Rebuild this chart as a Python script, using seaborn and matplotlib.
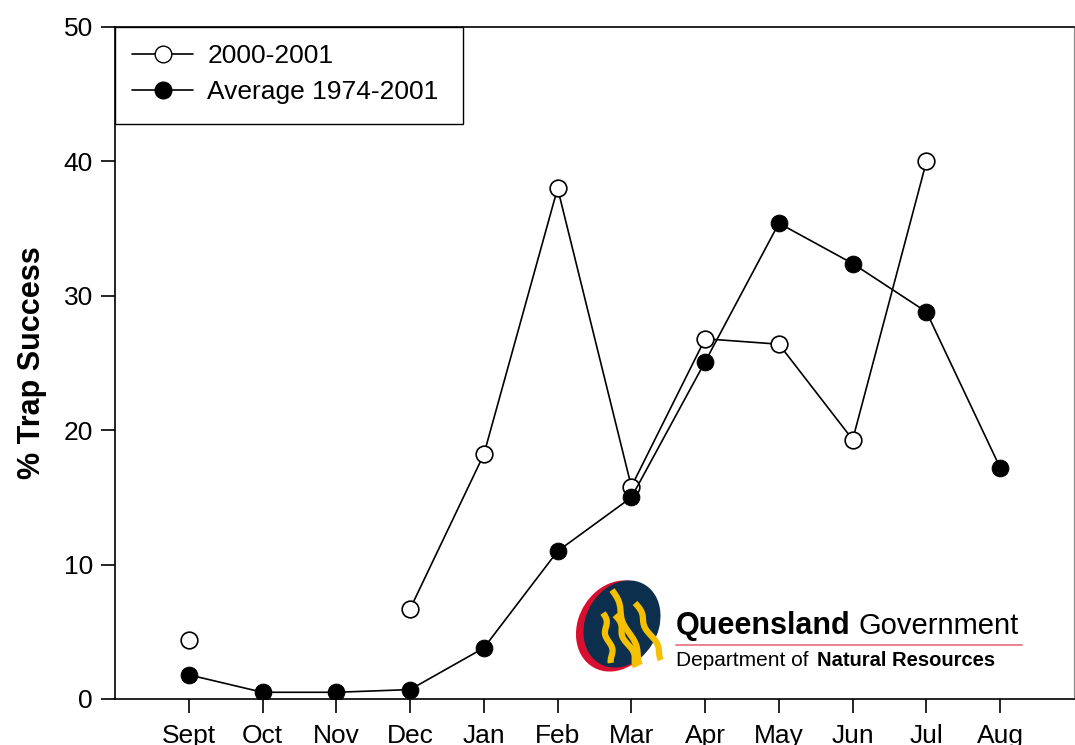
import numpy as np
import pandas as pd
import matplotlib
matplotlib.use("Agg")
import matplotlib.pyplot as plt
from matplotlib.patches import Ellipse, Rectangle
from matplotlib.lines import Line2D
import seaborn as sns

months = ["Sept", "Oct", "Nov", "Dec", "Jan", "Feb", "Mar", "Apr", "May", "Jun", "Jul", "Aug"]
season_2000_2001 = [4.4, np.nan, np.nan, 6.7, 18.2, 38.0, 15.8, 26.8, 26.4, 19.3, 40.0, np.nan]
average_1974_2001 = [1.8, 0.5, 0.5, 0.7, 3.8, 11.0, 15.0, 25.1, 35.4, 32.4, 28.8, 17.2]
y_ticks = [0, 10, 20, 30, 40, 50]

sns.set_theme(style="ticks")
plt.rcParams['font.family'] = ['Liberation Sans', 'DejaVu Sans']
plt.rcParams['text.color'] = 'black'
plt.rcParams['axes.labelcolor'] = 'black'
plt.rcParams['xtick.color'] = 'black'
plt.rcParams['ytick.color'] = 'black'

W, H = 1075, 745
fig = plt.figure(figsize=(W / 100, H / 100), dpi=100)
L, R, T, B = 115, 1074, 27, 699
ax = fig.add_axes([L / W, 1 - B / H, (R - L) / W, (B - T) / H])

pos = np.arange(len(months))
s = pd.Series(season_2000_2001)
seg = s.isna().cumsum()
df_open = pd.DataFrame({"pos": pos, "val": season_2000_2001, "seg": seg}).dropna()
df_avg = pd.DataFrame({"pos": pos, "val": average_1974_2001})

sns.lineplot(data=df_open, x="pos", y="val", units="seg", estimator=None, ax=ax,
             color="black", linewidth=1.2, marker="o", markersize=12,
             markerfacecolor="white", markeredgecolor="black", markeredgewidth=1.2, zorder=3)
sns.lineplot(data=df_avg, x="pos", y="val", ax=ax,
             color="black", linewidth=1.2, marker="o", markersize=12,
             markerfacecolor="black", markeredgecolor="black", zorder=4)

ax.set_xlim(-1, 12)
ax.set_ylim(0, 50)
ax.set_xticks(pos)
ax.set_xticklabels(months)
ax.set_yticks(y_ticks)
ax.set_xlabel("")
ax.set_ylabel("% Trap Success", fontsize=22, fontweight="bold", labelpad=12, color="black")
ax.tick_params(axis="both", labelsize=19, length=10, width=1.2, color="black",
               labelcolor="black", direction="out")
ax.tick_params(axis="x", pad=8)
ax.tick_params(axis="y", pad=6)
for side in ["left", "bottom", "top"]:
    ax.spines[side].set_visible(True)
    ax.spines[side].set_color("black")
    ax.spines[side].set_linewidth(1.2)
ax.spines["right"].set_visible(True)
ax.spines["right"].set_color("#888888")
ax.spines["right"].set_linewidth(0.8)

# legend
h1 = Line2D([], [], color="black", lw=1.2, marker="o", markersize=12,
            markerfacecolor="white", markeredgecolor="black")
h2 = Line2D([], [], color="black", lw=1.2, marker="o", markersize=12,
            markerfacecolor="black", markeredgecolor="black")
leg = ax.legend([h1, h2], ["2000-2001", "Average 1974-2001"], loc="upper left",
                bbox_to_anchor=(0.0, 1.0), frameon=False, fontsize=19,
                handlelength=2.3, handletextpad=0.55, labelspacing=0.45,
                borderaxespad=0.25, borderpad=0.4)
for t in leg.get_texts():
    t.set_color("black")
fig.add_artist(Rectangle((L / W, 1 - 124 / H), (463 - L) / W, (124 - T) / H,
                         transform=fig.transFigure, fill=False, edgecolor="black", lw=1.0))

# Queensland Government logo
def fx(px):
    return np.asarray(px) / W
def fy(py):
    return 1 - np.asarray(py) / H
fig.add_artist(Ellipse((fx(617), fy(626)), 80 / W, 92 / H, angle=-10, transform=fig.transFigure,
                       facecolor="#d8102f", edgecolor="none", zorder=5))
fig.add_artist(Ellipse((fx(622), fy(624)), 75 / W, 88 / H, angle=-10, transform=fig.transFigure,
                       facecolor="#0b2f4c", edgecolor="none", zorder=6))
for (x0, y0), (x1, y1) in [((612, 590), (642, 665)), ((603, 613), (613, 663)),
                           ((615, 615), (638, 667)), ((635, 603), (663, 660))]:
    t = np.linspace(0, 1, 60)
    yy = y0 + (y1 - y0) * t
    xx = x0 + (x1 - x0) * t + 2.2 * np.sin(t * 3.5 * np.pi)
    fig.add_artist(Line2D(fx(xx), fy(yy), transform=fig.transFigure, color="#f5c000",
                          lw=4.5, zorder=7, solid_capstyle="butt"))
fig.text(fx(676), fy(626), "Queensland", fontsize=22, fontweight="bold",
         va="center", ha="left", zorder=8)
fig.text(fx(858), fy(626), "Government", fontsize=21,
         va="center", ha="left", zorder=8)
fig.add_artist(Line2D([fx(676), fx(1022)], [fy(645), fy(645)], transform=fig.transFigure,
                      color="#e8788a", lw=1.3, zorder=8))
fig.text(fx(676), fy(660), "Department of", fontsize=15,
         va="center", ha="left", zorder=8)
fig.text(fx(817), fy(660), "Natural Resources", fontsize=14.5, fontweight="bold",
         va="center", ha="left", zorder=8)

fig.savefig("out.png", dpi=100)
